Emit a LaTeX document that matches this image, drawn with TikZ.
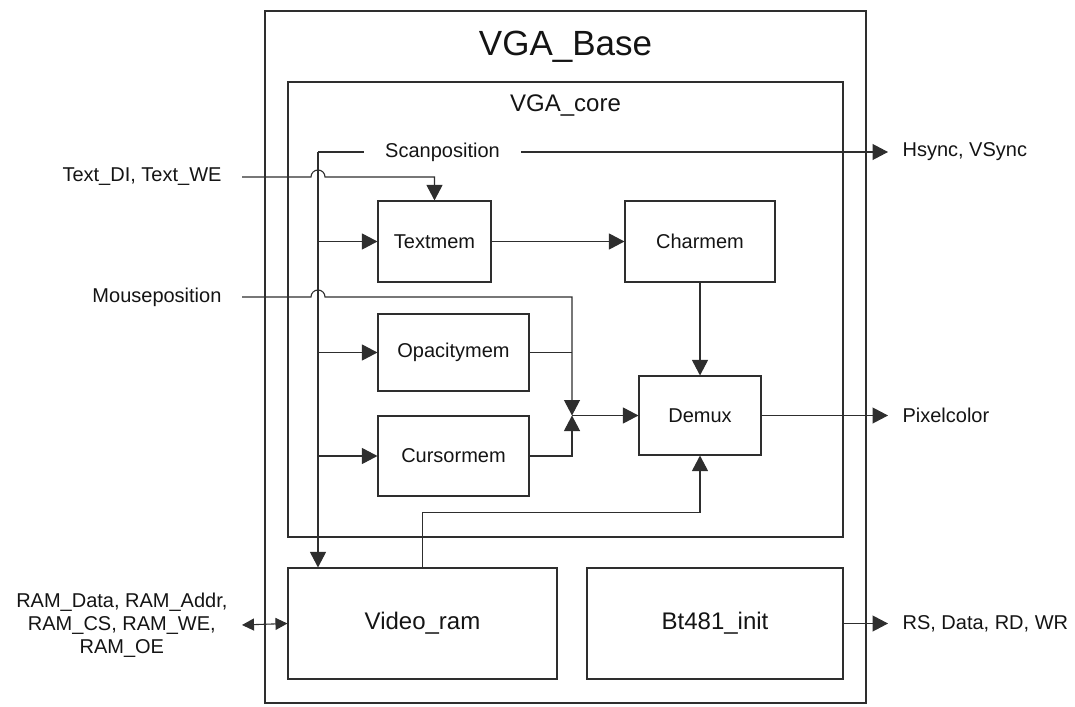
\documentclass[tikz,border=0pt]{standalone}
\usepackage{fontspec}
\setmainfont{Liberation Sans}
\usetikzlibrary{arrows.meta}

\begin{document}
\begin{tikzpicture}[x=1pt,y=-1pt,line width=1.1pt,color=black!82,
    every node/.append style={text=black!92},
    blk/.style={draw,rectangle,inner sep=0pt},
    lbl/.style={font=\fontsize{20}{23}\selectfont},
    big/.style={font=\fontsize{24}{28}\selectfont},
    arr/.style={-{Triangle[length=15.5pt,width=16pt]}},
    dbl/.style={{Triangle[length=12pt,width=12pt]}-{Triangle[length=12pt,width=12pt]}}]
    \useasboundingbox (0,0) rectangle (1075,706);
    \draw (565.5,357)   node[blk,minimum width=601pt,minimum height=692pt] (base) {};
    \draw (565.5,309.5) node[blk,minimum width=555pt,minimum height=455pt] (core) {};
    \node[font=\fontsize{35}{40}\selectfont] (basetitle) at (565.5,47) {VGA\_Base};
    \node[font=\fontsize{24}{28}\selectfont] (coretitle) at (565.5,106) {VGA\_core};

    \draw (434.5,241.5) node[blk,lbl,minimum width=113pt,minimum height=81pt] (textmem) {Textmem};
    \draw (700,241.5)   node[blk,lbl,minimum width=150pt,minimum height=81pt] (charmem) {Charmem};
    \draw (453.5,352.5) node[blk,lbl,minimum width=151pt,minimum height=77pt] (opacity) {Opacitymem};
    \draw (453.5,456)   node[blk,lbl,minimum width=151pt,minimum height=80pt] (cursor) {Cursormem};
    \draw (700,415.5)   node[blk,lbl,minimum width=122pt,minimum height=79pt] (demux) {Demux};
    \draw (422.5,623.5) node[blk,big,minimum width=269pt,minimum height=111pt] (videoram) {Video\_ram};
    \draw (715,623.5)   node[blk,big,minimum width=256pt,minimum height=111pt] (bt) {Bt481\_init};

    \node[lbl,inner xsep=21pt] (scan) at (442.5,152) {Scanposition};
    \node[lbl,anchor=west,inner xsep=14pt] (hsync) at (888,152) {Hsync, VSync};
    \node[lbl,anchor=west,inner xsep=14pt] (pixel) at (888,415.5) {Pixelcolor};
    \node[lbl,anchor=west,inner xsep=14pt] (rsdata) at (888,623.5) {RS, Data, RD, WR};
    \node[lbl,anchor=east,inner xsep=20pt] (textdi) at (242,177) {Text\_DI, Text\_WE};
    \node[lbl,anchor=east,inner xsep=20pt] (mouse) at (242,297) {Mouseposition};
    \node[lbl,anchor=east,inner xsep=14pt,align=center] (ram) at (242,625)
        {RAM\_Data, RAM\_Addr,\\RAM\_CS, RAM\_WE,\\RAM\_OE};

    \coordinate (bus) at (318,152);
    \coordinate (mrg) at (572,415.5);
    \coordinate (jt) at (bus |- textdi.east);
    \coordinate (jm) at (bus |- mouse.east);

    \draw (scan.west) -- (bus);
    \draw[arr] (bus) -- (bus |- videoram.north);
    \draw[arr] (scan.east) -- (hsync.west);
    \draw[arr] (textdi.east) -- ([xshift=-7pt]jt) arc[start angle=180,end angle=0,radius=7pt] -| (textmem.north);
    \draw[arr] (mouse.east) -- ([xshift=-7pt]jm) arc[start angle=180,end angle=0,radius=7pt] -| (mrg);
    \draw[arr] (bus |- textmem) -- (textmem);
    \draw[arr] (bus |- opacity) -- (opacity);
    \draw[arr] (bus |- cursor) -- (cursor);
    \draw[arr] (textmem) -- (charmem);
    \draw[arr] (charmem) -- (demux);
    \draw (opacity.east) -- (opacity.east -| mrg);
    \draw[arr] (cursor.east) -| (mrg);
    \draw[arr] (mrg) -- (demux);
    \draw[arr] (demux) -- (pixel.west);
    \draw[arr] (videoram.north) -- ++(0,-55) -| (demux.south);
    \draw[arr] (bt) -- (rsdata.west);
    \draw[dbl] (ram.east) -- (videoram.west);
\end{tikzpicture}
\end{document}
